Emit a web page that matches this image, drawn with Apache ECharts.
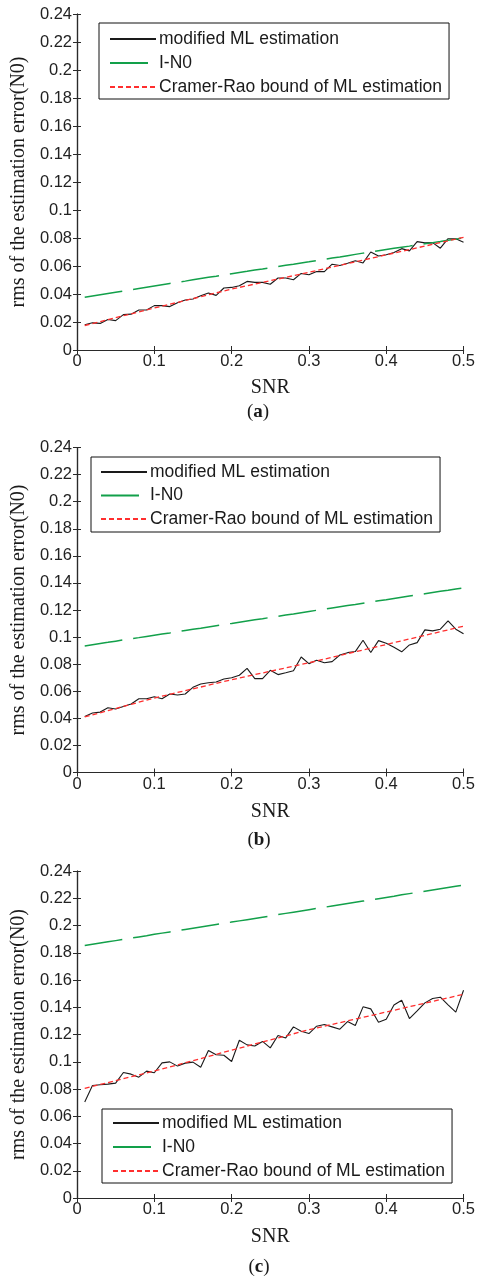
<!DOCTYPE html>
<html>
<head>
<meta charset="utf-8">
<script src="https://cdn.jsdelivr.net/npm/echarts@6/dist/echarts.min.js"></script>
<style>
html,body{margin:0;padding:0;background:#fff;}
#chart{width:478px;height:1281px;}
</style>
</head>
<body>
<div id="chart"></div>
<script>
// ---------- data ----------
const snr = [0.01,0.02,0.03,0.04,0.05,0.06,0.07,0.08,0.09,0.10,
  0.11,0.12,0.13,0.14,0.15,0.16,0.17,0.18,0.19,0.20,
  0.21,0.22,0.23,0.24,0.25,0.26,0.27,0.28,0.29,0.30,
  0.31,0.32,0.33,0.34,0.35,0.36,0.37,0.38,0.39,0.40,
  0.41,0.42,0.43,0.44,0.45,0.46,0.47,0.48,0.49,0.50];

const seriesNames = ['modified ML estimation', 'I-N0', 'Cramer-Rao bound of ML estimation'];
const panelLabels = ['a', 'b', 'c'];
const xTicks = [0, 0.1, 0.2, 0.3, 0.4, 0.5];
const yTicks = [0, 0.02, 0.04, 0.06, 0.08, 0.1, 0.12, 0.14, 0.16, 0.18, 0.2, 0.22, 0.24];
const xAxisName = 'SNR';
const yAxisName = 'rms of the estimation error(N0)';

// panel (a)
const aML = [0.018,0.0194,0.019,0.0218,0.021,0.0253,0.0256,0.0286,0.0286,0.0317,
  0.0317,0.031,0.0338,0.0357,0.0364,0.0388,0.0407,0.039,0.0443,0.0447,
  0.0459,0.049,0.0483,0.0483,0.047,0.0514,0.0514,0.0502,0.0547,0.0537,
  0.056,0.056,0.0613,0.0604,0.062,0.0637,0.0622,0.070,0.0672,0.068,
  0.0696,0.0724,0.0708,0.0774,0.0765,0.0767,0.0727,0.0795,0.0795,0.077];
const aIN0 = [0.0376,0.0385,0.0394,0.0403,0.0412,0.0421,0.0430,0.0439,0.0448,0.0457,
  0.0466,0.0475,0.0484,0.0492,0.0501,0.0510,0.0519,0.0527,0.0536,0.0545,
  0.0554,0.0562,0.0571,0.0579,0.0588,0.0596,0.0605,0.0613,0.0622,0.0630,
  0.0639,0.0648,0.0657,0.0665,0.0674,0.0683,0.0692,0.0700,0.0709,0.0718,
  0.0726,0.0734,0.0742,0.0751,0.0759,0.0767,0.0775,0.0784,0.0792,0.0800];
const aCRB = [0.0175,0.0189,0.0203,0.0217,0.0231,0.0245,0.0258,0.0272,0.0286,0.0300,
  0.0313,0.0327,0.0340,0.0354,0.0367,0.0381,0.0394,0.0408,0.0421,0.0435,
  0.0447,0.0459,0.0471,0.0483,0.0495,0.0507,0.0519,0.0531,0.0543,0.0555,
  0.0567,0.0580,0.0592,0.0605,0.0617,0.0630,0.0642,0.0655,0.0667,0.0680,
  0.0692,0.0705,0.0717,0.0730,0.0742,0.0755,0.0767,0.0780,0.0792,0.0805];

// panel (b)
const bML = [0.0414,0.0439,0.0446,0.0478,0.0469,0.0488,0.0506,0.0545,0.0545,0.056,
  0.0545,0.058,0.0572,0.058,0.0629,0.0654,0.0663,0.0668,0.069,0.070,
  0.0718,0.0769,0.0693,0.0693,0.0755,0.0723,0.0737,0.0752,0.0853,0.0804,
  0.0829,0.0811,0.0819,0.0868,0.0885,0.0893,0.0977,0.0886,0.0974,0.0955,
  0.0925,0.0891,0.0942,0.0959,0.1053,0.1046,0.1058,0.112,0.1058,0.1024];
const bIN0 = [0.0935,0.0944,0.0953,0.0961,0.0970,0.0979,0.0988,0.0996,0.1005,0.1014,
  0.1023,0.1031,0.1040,0.1049,0.1058,0.1066,0.1075,0.1084,0.1093,0.1101,
  0.1110,0.1119,0.1128,0.1136,0.1145,0.1154,0.1163,0.1171,0.1180,0.1189,
  0.1198,0.1206,0.1215,0.1224,0.1233,0.1241,0.1250,0.1259,0.1268,0.1276,
  0.1285,0.1294,0.1303,0.1311,0.1320,0.1329,0.1338,0.1346,0.1355,0.1364];
const bCRB = [0.0410,0.0426,0.0441,0.0457,0.0472,0.0488,0.0503,0.0519,0.0534,0.0550,
  0.0564,0.0577,0.0591,0.0604,0.0618,0.0631,0.0645,0.0658,0.0672,0.0685,
  0.0698,0.0710,0.0723,0.0735,0.0748,0.0760,0.0773,0.0785,0.0798,0.0810,
  0.0824,0.0837,0.0851,0.0864,0.0878,0.0891,0.0905,0.0918,0.0932,0.0945,
  0.0959,0.0972,0.0986,0.0999,0.1013,0.1026,0.1040,0.1053,0.1067,0.1080];

// panel (c)
const cML = [0.0705,0.0826,0.0831,0.0836,0.0843,0.0921,0.0909,0.0887,0.0931,0.0919,
  0.0992,0.0999,0.0968,0.099,0.0997,0.096,0.1083,0.1051,0.1048,0.1002,
  0.1158,0.1124,0.1116,0.1149,0.1102,0.1193,0.1175,0.1256,0.1224,0.1207,
  0.1261,0.1273,0.1256,0.1239,0.1295,0.1266,0.1403,0.1388,0.129,0.1312,
  0.1417,0.1452,0.1317,0.1373,0.1432,0.1464,0.1474,0.1418,0.1364,0.1525];
const cIN0 = [0.1853,0.1862,0.1871,0.1880,0.1889,0.1898,0.1907,0.1916,0.1925,0.1935,
  0.1944,0.1953,0.1962,0.1971,0.1980,0.1989,0.1998,0.2007,0.2016,0.2025,
  0.2034,0.2043,0.2052,0.2061,0.2070,0.2080,0.2089,0.2098,0.2107,0.2116,
  0.2125,0.2134,0.2143,0.2152,0.2161,0.2170,0.2179,0.2188,0.2197,0.2206,
  0.2215,0.2225,0.2234,0.2243,0.2252,0.2261,0.2270,0.2279,0.2288,0.2297];
const cCRB = [0.0805,0.0819,0.0833,0.0847,0.0861,0.0876,0.0890,0.0904,0.0918,0.0932,
  0.0947,0.0962,0.0977,0.0993,0.1008,0.1023,0.1039,0.1054,0.1070,0.1085,
  0.1100,0.1115,0.1130,0.1145,0.1160,0.1175,0.1190,0.1205,0.1220,0.1235,
  0.1248,0.1261,0.1274,0.1287,0.1300,0.1313,0.1326,0.1339,0.1352,0.1365,
  0.1378,0.1391,0.1404,0.1417,0.1430,0.1443,0.1456,0.1469,0.1482,0.1495];

const panels = [
  {ml: aML, in0: aIN0, crb: aCRB},
  {ml: bML, in0: bIN0, crb: bCRB},
  {ml: cML, in0: cIN0, crb: cCRB}
];

// ---------- layout / style ----------
const gridBoxes = [
  {top: 14, height: 336},
  {top: 447.5, height: 325},
  {top: 871, height: 327}
];
const legendBoxes = [
  {left: 99, top: 23, padding: [6, 7, 2, 10], itemGap: 4},
  {left: 91, top: 457, padding: [5, 7, 3, 9], itemGap: 3.5},
  {left: 102, top: 1109, padding: [4, 7, 2, 10], itemGap: 4}
];
const captionPos = [{x: 258, y: 412}, {x: 259, y: 840}, {x: 259, y: 1267}];
const xNameGaps = [28, 29, 29];

const axisColor = '#2a2a2a';
const labelFont = 'Liberation Sans, Arial, sans-serif';
const serifFont = 'Liberation Serif, Times New Roman, serif';
const colors = ['#1a1a1a', '#12a04a', '#ff2e2e'];
const lineStyles = [
  {color: colors[0], width: 1.1, type: 'solid'},
  {color: colors[1], width: 1.5, type: [38, 11]},
  {color: colors[2], width: 1.3, type: [5, 3]}
];

const yMin = yTicks[0], yMax = yTicks[yTicks.length - 1], yStep = yTicks[1] - yTicks[0];
const xMin = xTicks[0], xMax = xTicks[xTicks.length - 1], xStep = xTicks[1] - xTicks[0];

const grid = [], xAxis = [], yAxis = [], series = [], legend = [], graphic = [];

panels.forEach((p, g) => {
  grid.push({left: 77, right: 13, top: gridBoxes[g].top, height: gridBoxes[g].height,
    show: false});
  // bottom x
  xAxis.push({
    type: 'value', gridIndex: g, position: 'bottom', min: xMin, max: xMax, interval: xStep,
    name: xAxisName, nameLocation: 'middle', nameGap: xNameGaps[g],
    nameTextStyle: {fontFamily: serifFont, fontSize: 20, color: '#1a1a1a'},
    axisLine: {show: true, lineStyle: {color: axisColor, width: 1.2}},
    axisTick: {show: true, inside: true, length: 4, lineStyle: {color: axisColor}},
    axisLabel: {show: true, margin: 3, fontFamily: labelFont, fontSize: 16.5, color: '#222'},
    splitLine: {show: false}
  });
  // top x (mirror)
  xAxis.push({
    type: 'value', gridIndex: g, position: 'top', min: xMin, max: xMax, interval: xStep,
    axisLine: {show: true, lineStyle: {color: axisColor, width: 1.2}},
    axisTick: {show: true, inside: true, length: 4, lineStyle: {color: axisColor}},
    axisLabel: {show: false}, splitLine: {show: false}
  });
  // left y
  yAxis.push({
    type: 'value', gridIndex: g, position: 'left', min: yMin, max: yMax, interval: yStep,
    name: yAxisName, nameLocation: 'middle', nameGap: 44,
    nameTextStyle: {fontFamily: serifFont, fontSize: 20, color: '#1a1a1a'},
    axisLine: {show: true, lineStyle: {color: axisColor, width: 1.2}},
    axisTick: {show: true, inside: true, length: 4, lineStyle: {color: axisColor}},
    axisLabel: {show: true, margin: 5, fontFamily: labelFont, fontSize: 16.5, color: '#222'},
    splitLine: {show: false}
  });
  // right y (mirror)
  yAxis.push({
    type: 'value', gridIndex: g, position: 'right', min: yMin, max: yMax, interval: yStep,
    axisLine: {show: true, lineStyle: {color: axisColor, width: 1.2}},
    axisTick: {show: true, inside: true, length: 4, lineStyle: {color: axisColor}},
    axisLabel: {show: false}, splitLine: {show: false}
  });

  const vals = [p.ml, p.in0, p.crb];
  vals.forEach((arr, k) => {
    series.push({
      type: 'line', name: seriesNames[k],
      xAxisIndex: 2 * g, yAxisIndex: 2 * g,
      data: snr.map((x, i) => [x, arr[i]]),
      symbol: 'none', showSymbol: false, smooth: false,
      lineStyle: lineStyles[k], itemStyle: {color: lineStyles[k].color},
      emphasis: {disabled: true}, silent: true, animation: false, z: 2 + k
    });
  });

  const lb = legendBoxes[g];
  legend.push({
    orient: 'vertical', left: lb.left, top: lb.top, padding: lb.padding,
    itemGap: lb.itemGap, itemWidth: 46, itemHeight: 14,
    backgroundColor: '#fff', borderColor: '#111', borderWidth: 1, borderRadius: 0,
    selectedMode: false, data: seriesNames.slice(),
    itemStyle: {opacity: 0},
    textStyle: {fontFamily: labelFont, fontSize: 17.5, color: '#1a1a1a', lineHeight: 20, padding: [0, 0, 0, -2]}
  });

  graphic.push({
    type: 'text', x: captionPos[g].x, y: captionPos[g].y, silent: true,
    style: {
      text: '(' + '{b|' + panelLabels[g] + '})',
      fontFamily: serifFont, fontSize: 19, fill: '#1a1a1a',
      align: 'center', verticalAlign: 'middle',
      rich: {b: {fontFamily: serifFont, fontSize: 19, fontWeight: 'bold', fill: '#1a1a1a'}}
    }
  });
});

const chart = echarts.init(document.getElementById('chart'), null, {renderer: 'canvas'});
chart.setOption({
  animation: false,
  backgroundColor: '#fff',
  grid, xAxis, yAxis, series, legend, graphic
});
</script>
</body>
</html>
